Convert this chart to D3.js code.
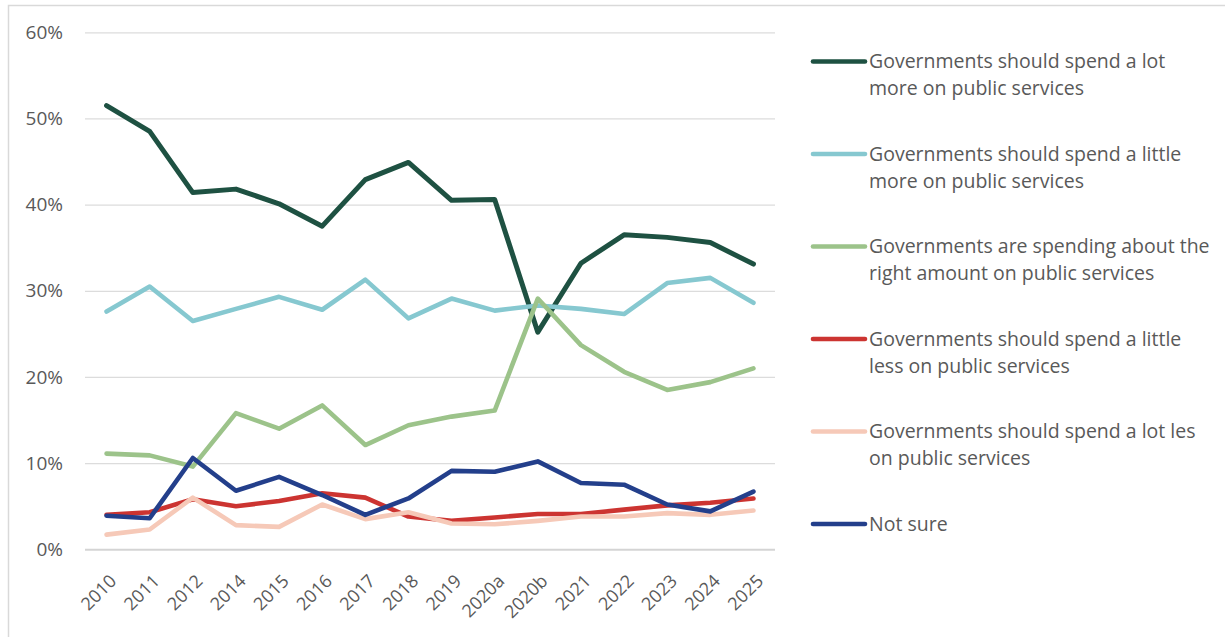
<!DOCTYPE html>
<html>
<head>
<meta charset="utf-8">
<script src="https://cdn.jsdelivr.net/npm/d3@7/dist/d3.min.js"></script>
<style>
  html, body { margin: 0; padding: 0; background: #fff; }
  svg { display: block; }
  svg text { font-family: "Open Sans", "Noto Sans", sans-serif; }
</style>
</head>
<body>
<svg id="chart" width="1225" height="637"></svg>
<script>
// Survey years (two waves in 2020)
const years = ["2010","2011","2012","2014","2015","2016","2017","2018","2019","2020a","2020b","2021","2022","2023","2024","2025"];

// Share of respondents (%) per answer
const lotMore    = [51.5, 48.5, 41.4, 41.8, 40.1, 37.5, 42.9, 44.9, 40.5, 40.6, 25.2, 33.2, 36.5, 36.2, 35.6, 33.1];
const littleMore = [27.6, 30.5, 26.5, 27.9, 29.3, 27.8, 31.3, 26.8, 29.1, 27.7, 28.3, 27.9, 27.3, 30.9, 31.5, 28.6];
const aboutRight = [11.1, 10.9,  9.6, 15.8, 14.0, 16.7, 12.1, 14.4, 15.4, 16.1, 29.1, 23.7, 20.6, 18.5, 19.4, 21.0];
const littleLess = [ 4.0,  4.3,  5.8,  5.0,  5.6,  6.5,  6.0,  3.8,  3.3,  3.7,  4.1,  4.1,  4.6,  5.1,  5.4,  5.9];
const lotLess    = [ 1.7,  2.3,  6.0,  2.8,  2.6,  5.2,  3.5,  4.3,  3.0,  2.9,  3.3,  3.8,  3.8,  4.2,  4.0,  4.5];
const notSure    = [ 3.9,  3.6, 10.6,  6.8,  8.4,  6.3,  4.0,  5.9,  9.1,  9.0, 10.2,  7.7,  7.5,  5.2,  4.4,  6.7];

const yTicks = [0, 10, 20, 30, 40, 50, 60];

const series = [
  { name: ["Governments should spend a lot", "more on public services"], values: lotMore, color: "#1e5142" },
  { name: ["Governments should spend a little", "more on public services"], values: littleMore, color: "#86c8d0" },
  { name: ["Governments are spending about the", "right amount on public services"], values: aboutRight, color: "#9cc38a" },
  { name: ["Governments should spend a little", "less on public services"], values: littleLess, color: "#cc3431" },
  { name: ["Governments should spend a lot les", "on public services"], values: lotLess, color: "#f6c9b8" },
  { name: ["Not sure"], values: notSure, color: "#233f8b" }
];

const svg = d3.select("#chart");

// chart frame
svg.append("rect")
  .attr("x", 8.5).attr("y", 5.5)
  .attr("width", 1300).attr("height", 700)
  .attr("fill", "none").attr("stroke", "#d9d9d9").attr("stroke-width", 1.5);

const plot = { left: 85, right: 775, top: 32.3, bottom: 549.3 };

const x = d3.scaleBand().domain(years).range([plot.left, plot.right]);
const y = d3.scaleLinear().domain([0, 60]).range([plot.bottom, plot.top]);

// horizontal gridlines
const yAxis = d3.axisLeft(y).tickValues(yTicks).tickFormat(d => d + "%")
  .tickSize(-(plot.right - plot.left)).tickPadding(22);
const gy = svg.append("g").attr("transform", `translate(${plot.left},0)`).call(yAxis);
gy.select(".domain").remove();
gy.selectAll(".tick line")
  .attr("stroke", d => d === 0 ? "#d4d4d4" : "#dcdcdc")
  .attr("stroke-width", d => d === 0 ? 2 : 1.3);
gy.selectAll(".tick text")
  .attr("fill", "#595959").attr("font-size", "19px");

// category labels, rotated
const xAxis = d3.axisBottom(x).tickSize(0).tickPadding(0);
const gx = svg.append("g").attr("transform", `translate(0,${plot.bottom})`).call(xAxis);
gx.select(".domain").remove();
gx.selectAll(".tick text")
  .attr("fill", "#595959").attr("font-size", "18px")
  .attr("text-anchor", "end")
  .attr("dy", 0)
  .attr("transform", "translate(11,33) rotate(-45)");

// lines
const line = d3.line()
  .x((d, i) => x(years[i]) + x.bandwidth() / 2)
  .y(d => y(d));

series.forEach((s, k) => {
  svg.append("path")
    .datum(s.values)
    .attr("d", line)
    .attr("fill", "none")
    .attr("stroke", s.color)
    .attr("stroke-width", k === 0 ? 5 : 4.6)
    .attr("stroke-linejoin", "round")
    .attr("stroke-linecap", "round");
});

// legend
const legend = svg.append("g");
const legendTop = 61.5, legendStep = 92.5;
series.forEach((s, i) => {
  const cy = legendTop + i * legendStep;
  legend.append("line")
    .attr("x1", 813).attr("x2", 865)
    .attr("y1", cy).attr("y2", cy)
    .attr("stroke", s.color).attr("stroke-width", 4.6)
    .attr("stroke-linecap", "round");
  const t = legend.append("text")
    .attr("x", 869).attr("y", cy + 6.5)
    .attr("fill", "#595959").attr("font-size", "19.5px");
  s.name.forEach((ln, j) => {
    t.append("tspan").attr("x", 869).attr("dy", j === 0 ? 0 : 27).text(ln);
  });
});
</script>
</body>
</html>
